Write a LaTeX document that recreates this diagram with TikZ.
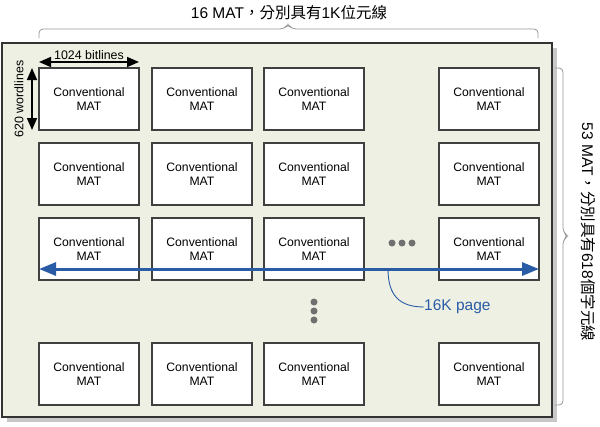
\documentclass[tikz,border=0pt]{standalone}
\usepackage{fontspec}
\setmainfont{Liberation Sans}
\newfontfamily\cjk[Script=CJK,Language=Chinese Traditional]{Noto Sans CJK TC}
\usetikzlibrary{arrows.meta}
\definecolor{panelfill}{RGB}{238,240,227}
\definecolor{panelshadow}{RGB}{200,200,200}
\definecolor{pageblue}{RGB}{42,92,166}
\definecolor{dotgray}{RGB}{112,112,112}
\definecolor{bracegray}{RGB}{150,150,150}
\tikzset{
  mat/.style={draw=black!75, line width=1.1pt, fill=white, minimum width=100pt, minimum height=62pt,
    inner sep=0pt, align=center, font=\fontsize{12.2}{14}\selectfont},
  dimarrow/.style={line width=1.6pt, {Triangle[length=12pt,width=10pt]}-{Triangle[length=12pt,width=10pt]}},
  dimlabel/.style={inner sep=0pt, font=\fontsize{12.4}{14}\selectfont},
  bigtext/.style={inner sep=0pt, font=\fontsize{15.5}{18}\selectfont},
  bracepath/.style={draw=bracegray, line width=0.8pt, rounded corners=4pt},
  dotstyle/.style={circle, fill=dotgray, inner sep=0pt, minimum size=7pt},
}
\begin{document}
\begin{tikzpicture}[x=1pt,y=-1pt]
\useasboundingbox (0,0) rectangle (600,426);
% panel with shadow
\fill[panelshadow] (7,48) rectangle (557,422);
\draw[fill=panelfill, draw=black!80, line width=1.1pt] (2,43) rectangle (552,417);
% MAT boxes
\foreach \c/\x in {1/89,2/202,3/314,4/489}{
  \foreach \r/\y in {1/99,2/174,3/249,4/374}{
    \node[mat] (m\r\c) at (\x,\y) {Conventional\\MAT};
  }
}
% dimension arrows
\coordinate (bl) at (39,62);
\coordinate (br) at (139,62);
\draw[dimarrow] (bl) -- (br);
\node[dimlabel, anchor=south] (bitl) at (89,60) {1024 bitlines};
\coordinate (wt) at (32,68);
\coordinate (wb) at (32,130);
\draw[dimarrow] (wt) -- (wb);
\node[dimlabel, rotate=90] (wordl) at (19,99) {620 wordlines};
% dots
\node[dotstyle] (h1) at (392,243) {};
\node[dotstyle] (h2) at (402,243) {};
\node[dotstyle] (h3) at (412,243) {};
\node[dotstyle] (v1) at (314,302) {};
\node[dotstyle] (v2) at (314,311) {};
\node[dotstyle] (v3) at (314,320) {};
% 16K page arrow
\coordinate (pl) at (39,269);
\coordinate (pr) at (539,269);
\draw[pageblue, line width=3pt, {Triangle[length=17pt,width=13pt]}-{Triangle[length=17pt,width=13pt]}] (pl) -- (pr);
\coordinate (pc) at (388,269);
\node[bigtext, text=pageblue, anchor=west] (pg) at (424,307) {16K page};
\draw[pageblue, line width=0.9pt] (pc) .. controls (388,296) and (400,307) .. (pg.west);
% top brace
\draw[bracepath] (39,38) -- (39,29) -- (284,29) -- (288,24) -- (292,29) -- (538,29) -- (538,38);
\node[bigtext] (toptext) at (289,13) {16 MAT{\cjk ，分別具有}1K{\cjk 位元線}};
% right brace
\draw[bracepath] (555,68) -- (563,68) -- (563,232) -- (568,236) -- (563,240) -- (563,405) -- (555,405);
\node[bigtext, rotate=-90] (righttext) at (588,232) {53 MAT{\cjk ，分別具有}618{\cjk 個字元線}};
\end{tikzpicture}
\end{document}
